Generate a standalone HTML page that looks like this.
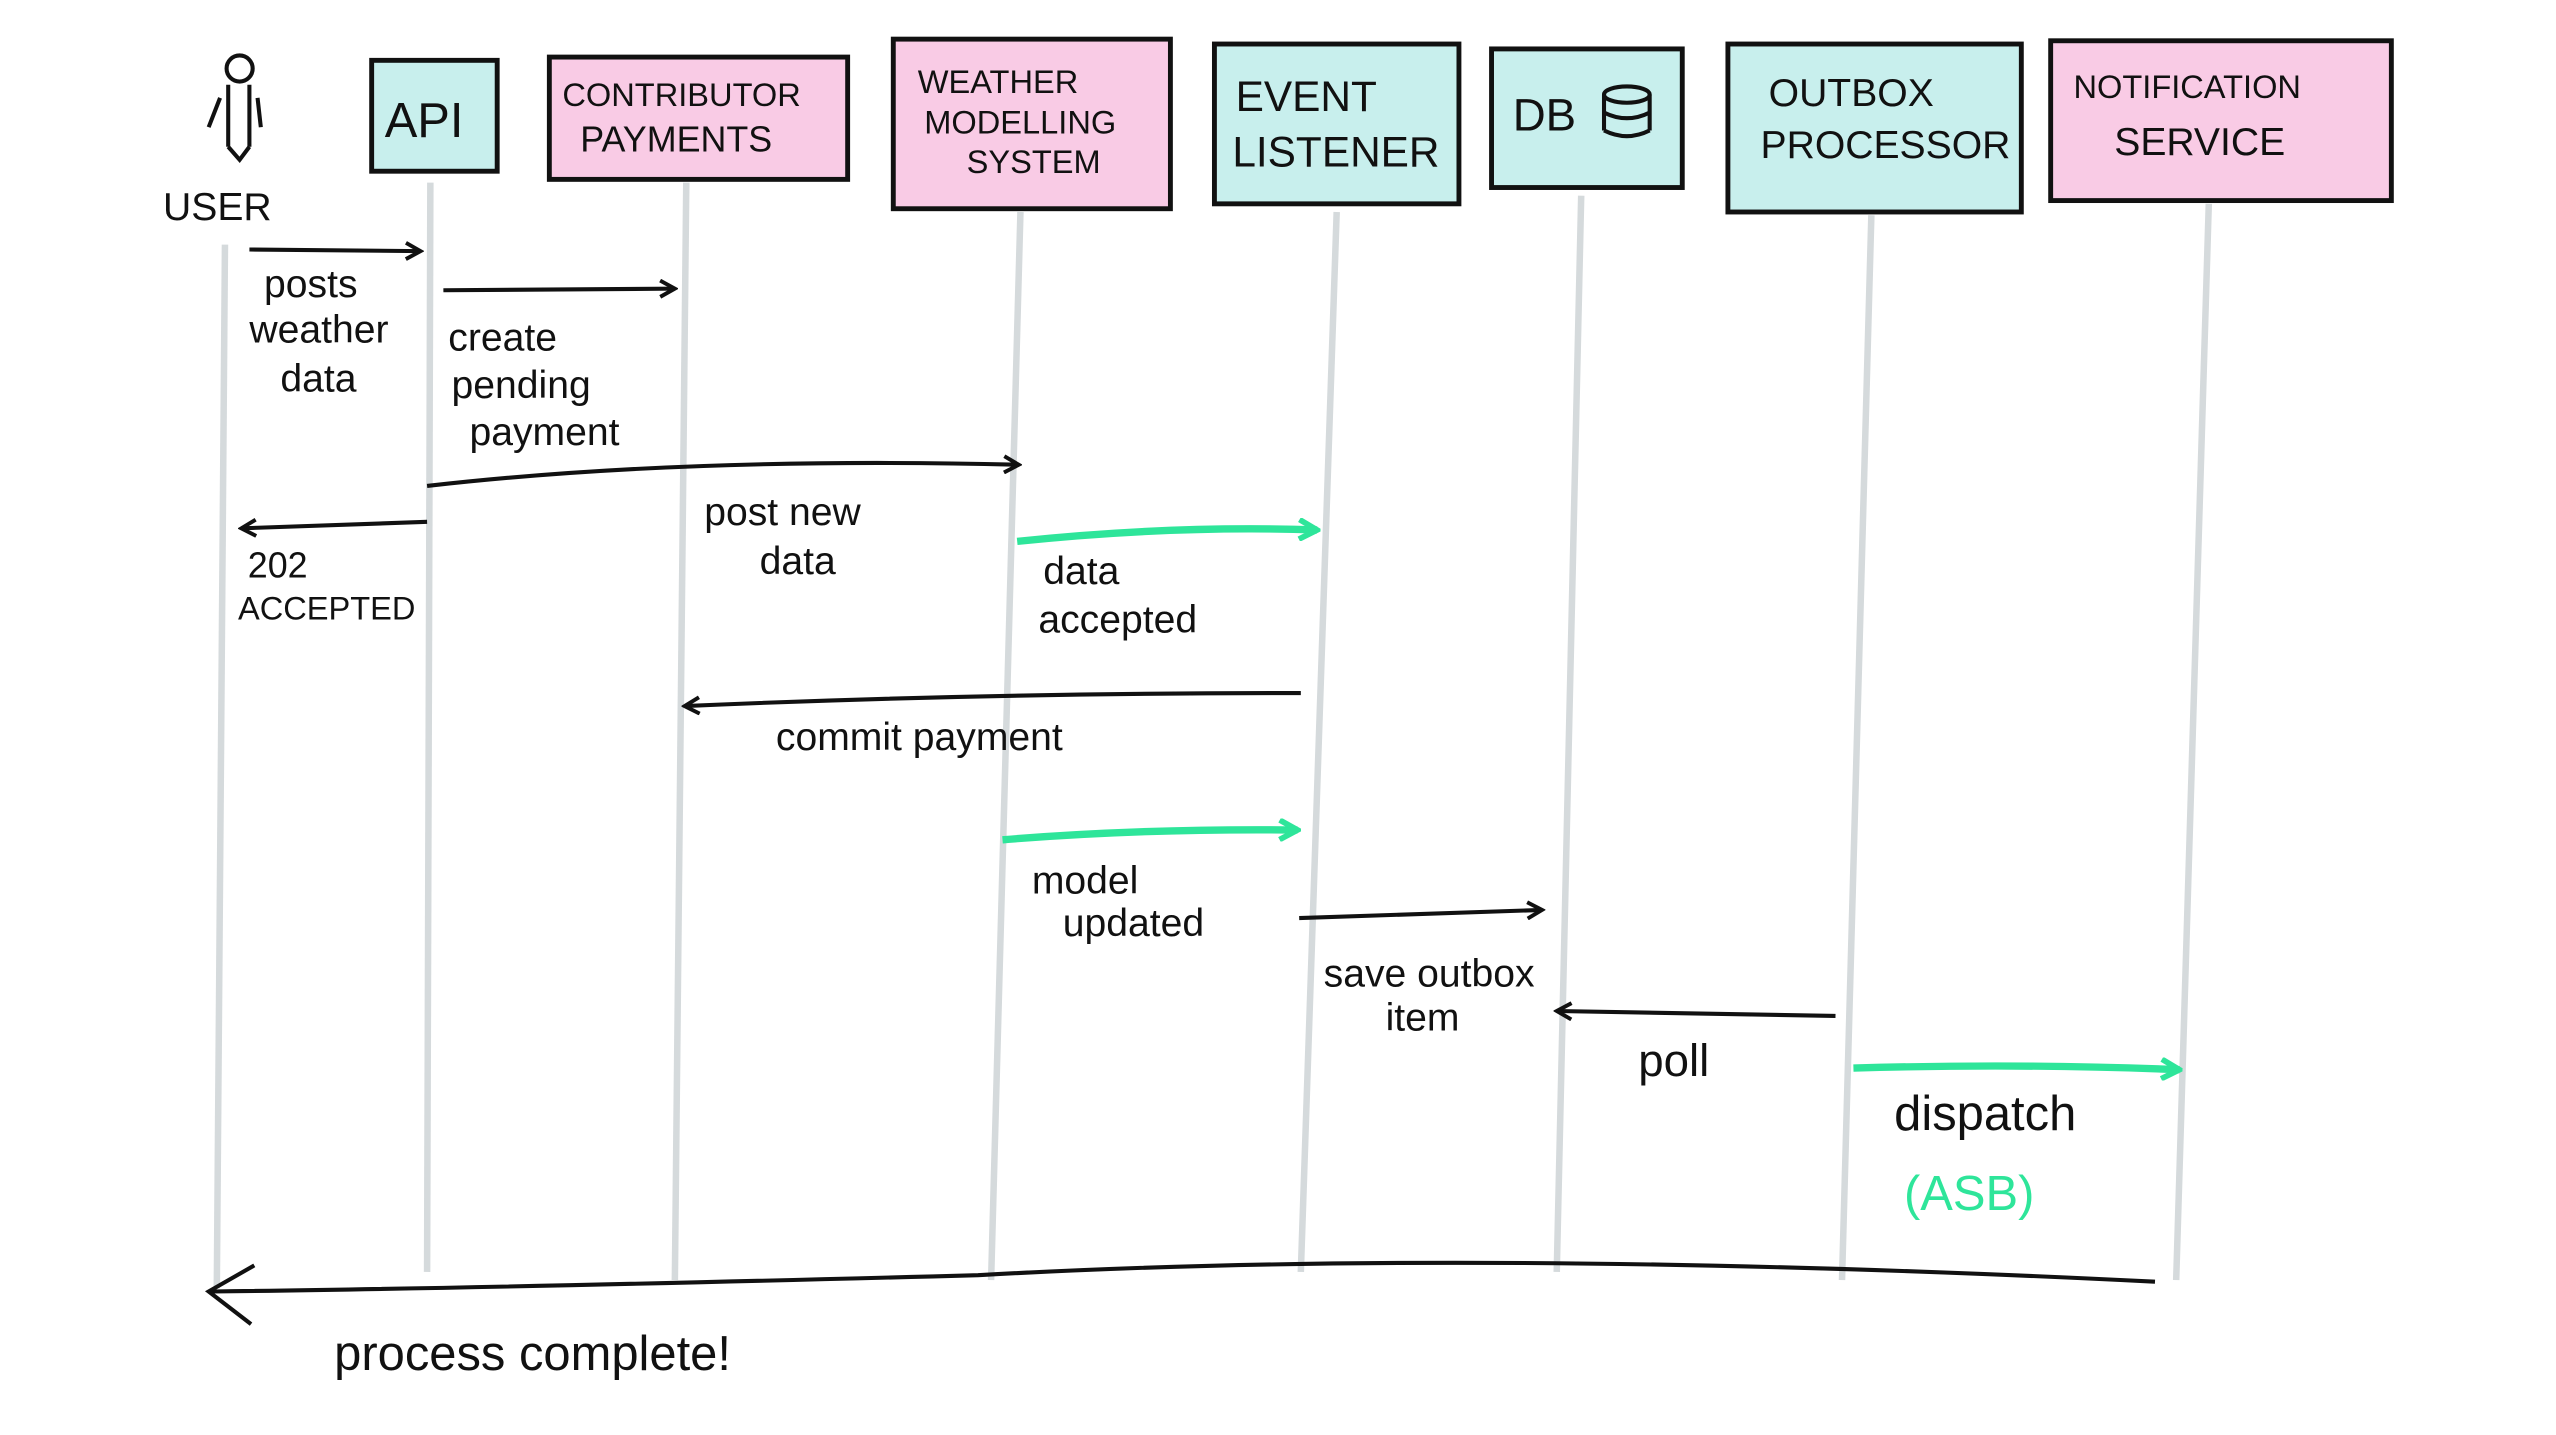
<!DOCTYPE html>
<html><head><meta charset="utf-8"><style>
html,body{margin:0;padding:0;background:#fff;}
svg{display:block;}
text{font-family:"Liberation Sans",sans-serif;fill:#111;}
</style></head><body>
<svg width="2556" height="1435" viewBox="0 0 1568 880" preserveAspectRatio="none" xmlns="http://www.w3.org/2000/svg">
<defs>
<marker id="a" markerWidth="12" markerHeight="12" refX="10" refY="6" orient="auto" markerUnits="userSpaceOnUse"><path d="M1,1 L10,6 L1,11" fill="none" stroke="#111" stroke-width="2.4"/></marker>
<marker id="g" markerWidth="14" markerHeight="14" refX="12" refY="7" orient="auto" markerUnits="userSpaceOnUse"><path d="M1,1 L12,7 L1,13" fill="none" stroke="#2ee59a" stroke-width="3.5"/></marker>
</defs>
<g stroke="#d5dadc" stroke-width="4" fill="none">
<path d="M138,150 L133,790"/><path d="M264,112 L262,780"/><path d="M421,112 L414,785"/>
<path d="M626,130 L608,785"/><path d="M820,130 L798,780"/><path d="M970,120 L955,780"/>
<path d="M1148,132 L1130,785"/><path d="M1355,125 L1335,785"/>
</g>
<g stroke="#111" stroke-width="3">
<rect x="228" y="37" width="77" height="68" fill="#c8efed"/>
<rect x="337" y="35" width="183" height="75" fill="#f9cbe5"/>
<rect x="548" y="24" width="170" height="104" fill="#f9cbe5"/>
<rect x="745" y="27" width="150" height="98" fill="#c8efed"/>
<rect x="915" y="30" width="117" height="85" fill="#c8efed"/>
<rect x="1060" y="27" width="180" height="103" fill="#c8efed"/>
<rect x="1258" y="25" width="209" height="98" fill="#f9cbe5"/>
</g>
<g stroke="#111" stroke-width="2.5" fill="none">
<circle cx="147" cy="42" r="8"/><path d="M140,52 L140,90 M153,52 L153,90 M140,90 L147,98 L153,90 M135,60 L128,78 M158,60 L160,78"/>
<ellipse cx="998" cy="58" rx="14" ry="5"/><path d="M984,58 L984,80 M1012,58 L1012,80"/><path d="M984,69 Q998,76 1012,69 M984,80 Q998,87 1012,80"/>
</g>
<g font-size="24">
<text x="100" y="135">USER</text>
<text x="236" y="84" font-size="30">API</text>
<text x="345" y="65" font-size="20">CONTRIBUTOR</text><text x="356" y="93" font-size="22">PAYMENTS</text>
<text x="563" y="57" font-size="20">WEATHER</text><text x="567" y="82" font-size="20">MODELLING</text><text x="593" y="106" font-size="20">SYSTEM</text>
<text x="758" y="68" font-size="26">EVENT</text><text x="756" y="102" font-size="26">LISTENER</text>
<text x="928" y="80" font-size="28">DB</text>
<text x="1085" y="65" font-size="24">OUTBOX</text><text x="1080" y="97" font-size="24">PROCESSOR</text>
<text x="1272" y="60" font-size="20">NOTIFICATION</text><text x="1297" y="95" font-size="24">SERVICE</text>
</g>
<g stroke="#111" stroke-width="2.5" fill="none">
<path d="M153,153 L258,154" marker-end="url(#a)"/>
<path d="M272,178 L414,177" marker-end="url(#a)"/>
<path d="M262,298 Q420,280 625,285" marker-end="url(#a)"/>
<path d="M262,320 L148,324" marker-end="url(#a)"/>
<path d="M798,425 Q600,425 420,433" marker-end="url(#a)"/>
<path d="M797,563 L946,558" marker-end="url(#a)"/>
<path d="M1126,623 L955,620" marker-end="url(#a)"/>
<path d="M1322,786 Q900,765 600,782 Q300,790 130,792"/>
<path d="M156,776 L128,792 L154,812"/>
</g>
<g stroke="#2ee59a" stroke-width="4.5" fill="none">
<path d="M624,332 Q720,322 808,325" marker-end="url(#g)"/>
<path d="M615,515 Q700,508 796,509" marker-end="url(#g)"/>
<path d="M1137,655 Q1240,652 1337,656" marker-end="url(#g)"/>
</g>
<g font-size="24">
<text x="162" y="182">posts</text><text x="153" y="210">weather</text><text x="172" y="240">data</text>
<text x="275" y="215">create</text><text x="277" y="244">pending</text><text x="288" y="273">payment</text>
<text x="432" y="322">post new</text><text x="466" y="352">data</text>
<text x="152" y="354" font-size="22">202</text><text x="146" y="380" font-size="20">ACCEPTED</text>
<text x="640" y="358">data</text><text x="637" y="388">accepted</text>
<text x="476" y="460">commit payment</text>
<text x="633" y="548">model</text><text x="652" y="574">updated</text>
<text x="812" y="605">save outbox</text><text x="850" y="632">item</text>
<text x="1005" y="660" font-size="28">poll</text>
<text x="1162" y="693" font-size="30">dispatch</text>
<text x="1168" y="742" font-size="30" style="fill:#2ee59a">(ASB)</text>
<text x="205" y="840" font-size="30">process complete!</text>
</g>
</svg>
</body></html>
